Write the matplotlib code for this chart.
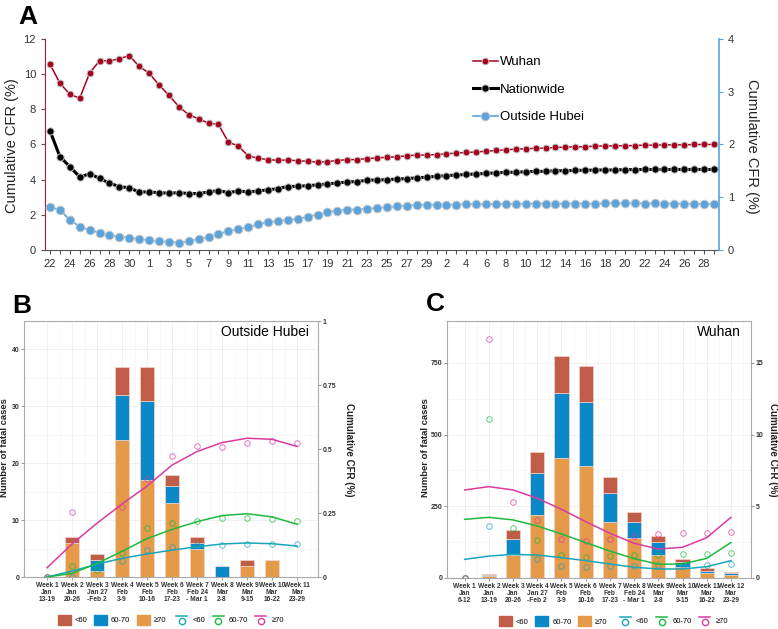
import numpy as np
import pandas as pd
import matplotlib
matplotlib.use("Agg")
import matplotlib.pyplot as plt
from matplotlib.lines import Line2D
from matplotlib.patches import Patch
from matplotlib.legend_handler import HandlerBase

plt.rcParams["font.family"] = ["Liberation Sans", "DejaVu Sans"]

# ---------------- Panel A data (daily cumulative CFR, %) ----------------
dates = pd.date_range("2020-01-22", "2020-03-29", freq="D")

wuhan = [10.57, 9.49, 8.86, 8.63, 10.06, 10.76, 10.76, 10.87, 11.06, 10.44,
         10.06, 9.39, 8.80, 8.16, 7.69, 7.46, 7.21, 7.15, 6.13, 5.92,
         5.35, 5.22, 5.14, 5.10, 5.12, 5.07, 5.05, 4.99, 5.03, 5.09,
         5.14, 5.14, 5.20, 5.24, 5.27, 5.30, 5.36, 5.40, 5.40,
         5.43, 5.47, 5.51, 5.55, 5.57, 5.62, 5.66, 5.70, 5.74, 5.75,
         5.79, 5.79, 5.83, 5.85, 5.87, 5.87, 5.91, 5.91, 5.93, 5.93,
         5.94, 5.96, 5.96, 5.98, 5.98, 5.98, 6.00, 6.00, 6.00]

nationwide = [6.79, 5.31, 4.74, 4.16, 4.33, 4.08, 3.80, 3.61, 3.53, 3.30,
              3.30, 3.26, 3.23, 3.26, 3.21, 3.21, 3.30, 3.38, 3.26, 3.36,
              3.30, 3.36, 3.42, 3.49, 3.61, 3.62, 3.66, 3.70, 3.76, 3.81,
              3.87, 3.89, 3.97, 3.98, 4.00, 4.03, 4.06, 4.10, 4.14,
              4.19, 4.23, 4.26, 4.30, 4.32, 4.36, 4.38, 4.42, 4.42, 4.45,
              4.47, 4.47, 4.51, 4.51, 4.53, 4.53, 4.55, 4.55, 4.55, 4.57,
              4.57, 4.58, 4.58, 4.58, 4.58, 4.58, 4.58, 4.58, 4.58]

# right axis
outside_hubei = [0.817, 0.760, 0.570, 0.443, 0.380, 0.330, 0.277, 0.253, 0.233, 0.210,
                 0.183, 0.170, 0.153, 0.140, 0.163, 0.210, 0.240, 0.310, 0.353, 0.400,
                 0.430, 0.487, 0.530, 0.543, 0.570, 0.587, 0.633, 0.670, 0.720, 0.747,
                 0.767, 0.767, 0.783, 0.797, 0.810, 0.825, 0.843, 0.849, 0.850,
                 0.855, 0.856, 0.862, 0.868, 0.868, 0.869, 0.874, 0.874, 0.874, 0.875,
                 0.880, 0.880, 0.880, 0.880, 0.880, 0.880, 0.878, 0.887, 0.887, 0.887,
                 0.887, 0.880, 0.887, 0.880, 0.880, 0.880, 0.874, 0.874, 0.874]

# ---------------- Panel B data (Outside Hubei) ----------------
b_weeks = ["Week 1\nJan\n13-19", "Week 2\nJan\n20-26", "Week 3\nJan 27\n-Feb 2",
           "Week 4\nFeb\n3-9", "Week 5\nFeb\n10-16", "Week 6\nFeb\n17-23",
           "Week 7\nFeb 24\n- Mar 1", "Week 8\nMar\n2-8", "Week 9\nMar\n9-15",
           "Week 10\nMar\n16-22", "Week 11\nMar\n23-29"]
b_ge70 = [0, 6, 1, 24, 17, 13, 5, 0, 2, 3, 0]
b_6070 = [0, 0, 2, 8, 14, 3, 1, 2, 0, 0, 0]
b_lt60 = [0, 1, 1, 5, 6, 2, 1, 0, 1, 0, 0]
# observed cumulative CFR (%) by age
b_pt_lt60 = [0, 0, np.nan, 0.064, 0.105, 0.116, 0.124, 0.124, 0.130, 0.127, 0.127]
b_pt_6070 = [0, 0.044, 0.027, 0.092, 0.190, 0.210, 0.219, 0.232, 0.229, 0.225, 0.220]
b_pt_ge70 = [0, 0.254, np.nan, 0.275, 0.384, 0.474, 0.510, 0.508, 0.522, 0.530, 0.522]
# smoothed curves read at each week
b_fit_lt60 = [0, 0.023, 0.050, 0.073, 0.090, 0.105, 0.118, 0.129, 0.133, 0.130, 0.121]
b_fit_6070 = [0, 0.014, 0.053, 0.100, 0.150, 0.186, 0.216, 0.240, 0.247, 0.235, 0.206]
b_fit_ge70 = [0.036, 0.129, 0.210, 0.285, 0.355, 0.437, 0.490, 0.525, 0.542, 0.538, 0.510]

# ---------------- Panel C data (Wuhan) ----------------
c_weeks = ["Week 1\nJan\n6-12", "Week 2\nJan\n13-19", "Week 3\nJan\n20-26",
           "Week 4\nJan 27\n-Feb 2", "Week 5\nFeb\n3-9", "Week 6\nFeb\n10-16",
           "Week 7\nFeb\n17-23", "Week 8\nFeb 24\n- Mar 1", "Week 9\nMar\n2-8",
           "Week 10\nMar\n9-15", "Week 11\nMar\n16-22", "Week 12\nMar\n23-29"]
c_ge70 = [0, 7, 80, 220, 417, 392, 196, 138, 80, 37, 16, 9]
c_6070 = [0, 4, 57, 147, 227, 221, 99, 58, 47, 20, 8, 7]
c_lt60 = [0, 3, 30, 73, 131, 126, 58, 35, 19, 8, 12, 5]
c_pt_lt60 = [0, 3.63, np.nan, 1.32, 0.85, 0.79, 0.82, 0.86, 0.90, 0.90, 0.91, 0.95]
c_pt_6070 = [0, 11.07, 3.51, 2.66, 1.58, 1.46, 1.55, 1.57, 1.60, 1.70, 1.70, 1.73]
c_pt_ge70 = [0, 16.66, 5.28, 4.05, 2.75, 2.59, 2.74, 2.94, 3.07, 3.16, 3.16, 3.21]
c_fit_lt60 = [1.30, 1.53, 1.65, 1.60, 1.42, 1.21, 0.98, 0.75, 0.63, 0.63, 0.79, 1.21]
c_fit_6070 = [4.09, 4.23, 4.05, 3.63, 3.07, 2.47, 1.88, 1.35, 0.96, 0.98, 1.37, 2.47]
c_fit_ge70 = [6.14, 6.37, 6.14, 5.56, 4.79, 3.93, 3.12, 2.42, 2.02, 2.14, 2.81, 4.23]

# colours
RED_BAR, BLUE_BAR, ORANGE_BAR = "#BF5D48", "#0A88C8", "#E49A49"
TEAL, GREEN, PINK = "#1AA5BA", "#1DB940", "#D93BA2"

W, H = 778, 629
fig = plt.figure(figsize=(W / 100, H / 100), dpi=100)


def box(l, t, r, b):
    return [l / W, 1 - b / H, (r - l) / W, (b - t) / H]


# ================= Panel A =================
axA = fig.add_axes(box(45, 39, 719, 250))
x = np.arange(len(dates))
axA.plot(x, wuhan, color="#A5001C", lw=1.1, marker="o", ms=4.8, mec="#BDBDBD", mew=0.7,
         label="Wuhan")
axA.plot(x, nationwide, color="black", lw=2.2, marker="o", ms=5.2, mec="#BDBDBD", mew=0.7,
         label="Nationwide")
axA.set_xlim(-0.5, len(dates) - 0.5)
axA.set_ylim(0, 12)
axA.set_yticks(range(0, 13, 2))
axA.set_xticks(x)
axA.set_xticklabels([str(d.day) if i % 2 == 0 else "" for i, d in enumerate(dates)])
axA.tick_params(axis="both", labelsize=8, direction="out", length=3, color="#555555",
                labelcolor="#333333", width=0.8)
axA.spines["top"].set_visible(False)
axA.spines["right"].set_visible(False)
axA.spines["left"].set_color("#B0202A")
axA.spines["bottom"].set_color("#555555")

axA2 = axA.twinx()
axA2.plot(x, outside_hubei, color="#5BA3DB", lw=1.2, marker="o", ms=6.2, mec="#C8C8C8",
          mew=0.7, label="Outside Hubei")
axA2.set_ylim(0, 4)
axA2.set_yticks(range(0, 5))
axA2.tick_params(axis="y", labelsize=8, direction="out", length=3, color="#5BA3DB",
                 labelcolor="#333333", width=0.8)
for s in ["top", "left", "bottom"]:
    axA2.spines[s].set_visible(False)
axA2.spines["right"].set_color("#5BA3DB")
axA2.spines["right"].set_linewidth(1.2)

hA = axA.get_legend_handles_labels()[0] + axA2.get_legend_handles_labels()[0]
axA2.legend(handles=hA, loc="upper left", bbox_to_anchor=(0.625, 0.95), frameon=False,
            fontsize=9.5, labelspacing=1.15, handlelength=1.9, handletextpad=0.15,
            borderpad=0)

fig.text(12 / W, 1 - 146 / H, "Cumulative CFR (%)", rotation=90, ha="center",
         va="center", fontsize=10.5, color="#222222")
fig.text(752 / W, 1 - 146 / H, "Cumulative CFR (%)", rotation=270, ha="center",
         va="center", fontsize=10.5, color="#222222")
fig.text(18 / W, 1 - 24 / H, "A", fontsize=19, fontweight="bold")


# ================= Panels B and C =================
class LineOverCircle(HandlerBase):
    def create_artists(self, legend, orig_handle, xdescent, ydescent, width, height,
                       fontsize, trans):
        c = orig_handle.get_color()
        ln = Line2D([0.05 * width, 0.95 * width], [height * 1.05] * 2, color=c, lw=1.1,
                    transform=trans)
        mk = Line2D([width / 2], [height * 0.2], marker="o", mfc="none", mec=c, ms=4.5,
                    mew=1.0, ls="none", transform=trans)
        return [ln, mk]


LEG_FONT = {"size": 5.5, "weight": "normal"}


def draw_panel(rect, labels, ge70, m6070, lt60, pts, fits, ymax, scale, yticks, rticks,
               rticklabels, title, bar_leg_x, line_leg_x):
    ax = fig.add_axes(rect)
    n = len(labels)
    xs = np.arange(1, n + 1)
    ge70 = np.array(ge70)
    m6070 = np.array(m6070)
    lt60 = np.array(lt60)
    ek = dict(width=0.58, edgecolor="#F3D6CC", linewidth=0.5)
    ax.bar(xs, ge70, color=ORANGE_BAR, **ek)
    ax.bar(xs, m6070, bottom=ge70, color=BLUE_BAR, **ek)
    ax.bar(xs, lt60, bottom=ge70 + m6070, color=RED_BAR, **ek)
    ax.set_ylim(0, ymax)
    ax.set_yticks(yticks)
    ax.set_yticks([t + (yticks[1] - yticks[0]) / 2 for t in yticks], minor=True)
    ax.set_xticks(xs)
    ax.set_xticks(xs + 0.5, minor=True)
    ax.set_xticklabels(labels, linespacing=1.05, fontsize=4.8, fontweight="bold")
    ax.grid(True, which="major", color="#EBEBEB", lw=0.5)
    ax.grid(True, which="minor", color="#F4F4F4", lw=0.4)
    ax.set_axisbelow(True)
    ax.tick_params(which="minor", length=0)
    ax.tick_params(which="major", length=2, color="#888888", width=0.6,
                   labelcolor="#333333", pad=1.5)
    ax.tick_params(axis="y", labelsize=5)
    for t in ax.get_yticklabels():
        t.set_fontweight("bold")
    for s in ax.spines.values():
        s.set_color("#AAAAAA")
        s.set_linewidth(0.8)
    ax.text(0.968, 0.985, title, transform=ax.transAxes, ha="right", va="top", fontsize=10)

    ax2 = ax.twinx()
    ax2.set_ylim(0, ymax / scale)
    for p, c in zip(pts, [TEAL, GREEN, PINK]):
        ax2.plot(xs, p, ls="none", marker="o", ms=4, mfc="none", mec=c, mew=0.7, alpha=0.7)
    handles = []
    for f, c in zip(fits, [TEAL, GREEN, PINK]):
        (h,) = ax2.plot(xs, f, color=c, lw=1.1)
        handles.append(h)
    ax2.set_yticks(rticks)
    ax2.set_yticklabels(rticklabels)
    ax2.tick_params(labelsize=5, length=2, color="#888888", width=0.6,
                    labelcolor="#333333", pad=1.5)
    for t in ax2.get_yticklabels():
        t.set_fontweight("bold")
    for s in ax2.spines.values():
        s.set_visible(False)

    bar_handles = [Patch(color=RED_BAR), Patch(color=BLUE_BAR), Patch(color=ORANGE_BAR)]
    ax.legend(bar_handles, ["<60", "60-70", "\u226570"], ncol=3, loc="center",
              bbox_to_anchor=(bar_leg_x, -0.168), frameon=False, prop=LEG_FONT,
              handlelength=1.7, handleheight=1.7, handletextpad=0.5,
              columnspacing=0.9, borderpad=0)
    ax2.legend(handles, ["<60", "60-70", "\u226570"], ncol=3, loc="center",
               bbox_to_anchor=(line_leg_x, -0.168), frameon=False, prop=LEG_FONT,
               handlelength=1.6, handletextpad=0.6, columnspacing=0.9, borderpad=0,
               handler_map={Line2D: LineOverCircle()})
    return ax, ax2


axB, axB2 = draw_panel(box(24, 321, 318, 577), b_weeks, b_ge70, b_6070, b_lt60,
                       [b_pt_lt60, b_pt_6070, b_pt_ge70],
                       [b_fit_lt60, b_fit_6070, b_fit_ge70],
                       40, 40, [0, 10, 20, 30, 40], [0, 0.25, 0.5, 0.75, 1],
                       ["0", "0.25", "0.5", "0.75", "1"], "Outside Hubei", 0.30, 0.70)
axB.set_xlim(0.08, 11.84)

axC, axC2 = draw_panel(box(447, 321, 751, 578), c_weeks, c_ge70, c_6070, c_lt60,
                       [c_pt_lt60, c_pt_6070, c_pt_ge70],
                       [c_fit_lt60, c_fit_6070, c_fit_ge70],
                       896, 50, [0, 250, 500, 750], [0, 5, 10, 15],
                       ["0", "5", "10", "15"], "Wuhan", 0.35, 0.745)
axC.set_xlim(0.27, 12.83)

for xp, lab in [(5, "Number of fatal cases"), (425, "Number of fatal cases")]:
    fig.text(xp / W, 1 - 448 / H, lab, rotation=90, ha="center", va="center",
             fontsize=6.8, fontweight="bold", color="#222222")
for xp in [349, 773]:
    fig.text(xp / W, 1 - 450 / H, "Cumulative CFR (%)", rotation=270, ha="center",
             va="center", fontsize=7, fontweight="bold", color="#222222")

fig.text(12 / W, 1 - 313 / H, "B", fontsize=19, fontweight="bold")
fig.text(426 / W, 1 - 311 / H, "C", fontsize=19, fontweight="bold")

fig.savefig("out.png", dpi=100)
